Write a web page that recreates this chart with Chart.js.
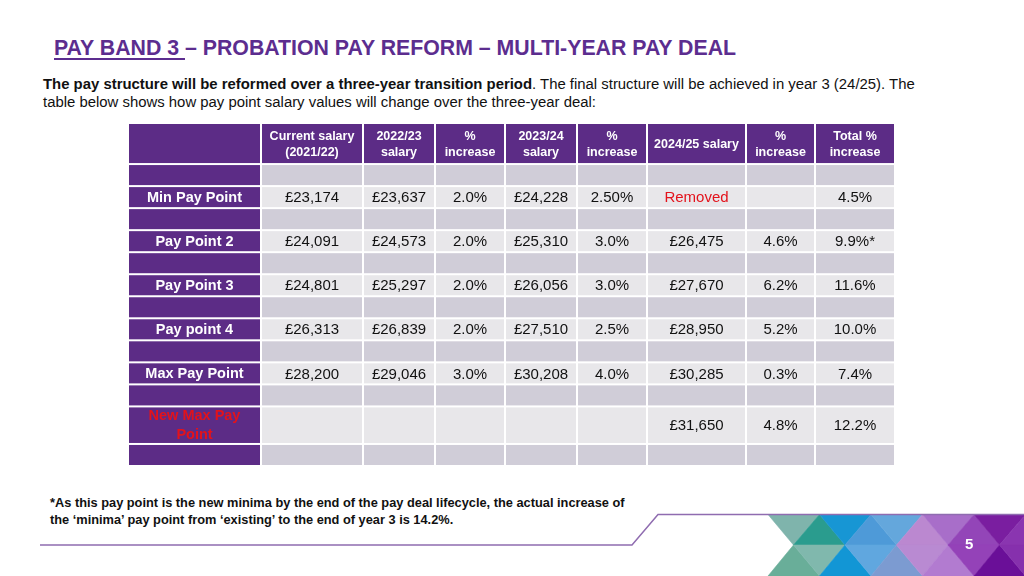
<!DOCTYPE html>
<html lang="en">
<head>
    <meta charset="UTF-8">
    <title>Pay Band 3 - Probation Pay Reform</title>
    <script src="https://cdn.jsdelivr.net/npm/chart.js"></script>
    <style>
        body {
            margin: 0;
            width: 1024px;
            height: 576px;
            overflow: hidden;
            background: #ffffff;
            font-family: 'Liberation Sans', Arial, sans-serif;
            position: relative;
        }

        .title {
            position: absolute;
            left: 54px;
            top: 36px;
            font-size: 21.3px;
            line-height: 24px;
            font-weight: bold;
            color: #5c2d8f;
            white-space: nowrap;
        }

        .title u {
            text-decoration-thickness: 1.5px;
            text-underline-offset: 3px;
        }

        .intro {
            position: absolute;
            left: 43px;
            top: 75px;
            font-size: 14.9px;
            line-height: 18px;
            color: #111;
            white-space: nowrap;
        }

        .note {
            position: absolute;
            left: 50px;
            top: 494px;
            font-size: 12.8px;
            line-height: 17px;
            font-weight: bold;
            color: #111;
            white-space: nowrap;
        }

        #tableWrap {
            position: absolute;
            left: 129px;
            top: 124px;
            width: 767px;
            height: 343px;
        }

        svg.deco {
            position: absolute;
            left: 0;
            top: 0;
        }

        .page {
            position: absolute;
            left: 965px;
            top: 535px;
            font-size: 15px;
            font-weight: bold;
            color: #fff;
        }
    </style>
</head>
<body>

    <div class="title"><u>PAY BAND 3 </u>– PROBATION PAY REFORM – MULTI-YEAR PAY DEAL</div>

    <div class="intro"><b>The pay structure will be reformed over a three-year transition period</b>. The final structure will be achieved in year 3 (24/25). The<br>table below shows how pay point salary values will change over the three-year deal:</div>

    <div id="tableWrap"><canvas id="payTable"></canvas></div>

    <div class="note">*As this pay point is the new minima by the end of the pay deal lifecycle, the actual increase of<br>the ‘minima’ pay point from ‘existing’ to the end of year 3 is 14.2%.</div>

    <!-- footer decoration -->
    <svg class="deco" width="1024" height="576" id="deco"></svg>
    <div class="page">5</div>

    <script>
        // table data
        const rowLabels = ['Min Pay Point', 'Pay Point 2', 'Pay Point 3', 'Pay point 4', 'Max Pay Point', 'New Max Pay Point'];
        const columnHeaders = [
            ['Current salary', '(2021/22)'],
            ['2022/23', 'salary'],
            ['%', 'increase'],
            ['2023/24', 'salary'],
            ['%', 'increase'],
            ['2024/25 salary'],
            ['%', 'increase'],
            ['Total %', 'increase']
        ];
        const currentSalary = ['£23,174', '£24,091', '£24,801', '£26,313', '£28,200', ''];
        const salary2223 = ['£23,637', '£24,573', '£25,297', '£26,839', '£29,046', ''];
        const increase2223 = ['2.0%', '2.0%', '2.0%', '2.0%', '3.0%', ''];
        const salary2324 = ['£24,228', '£25,310', '£26,056', '£27,510', '£30,208', ''];
        const increase2324 = ['2.50%', '3.0%', '3.0%', '2.5%', '4.0%', ''];
        const salary2425 = ['Removed', '£26,475', '£27,670', '£28,950', '£30,285', '£31,650'];
        const increase2425 = ['', '4.6%', '6.2%', '5.2%', '0.3%', '4.8%'];
        const totalIncrease = ['4.5%', '9.9%*', '11.6%', '10.0%', '7.4%', '12.2%'];

        const valueColumns = [currentSalary, salary2223, increase2223, salary2324, increase2324, salary2425, increase2425, totalIncrease];

        // layout (scale units)
        const colWidths = [133, 102, 72, 70, 72, 70, 99, 69, 80];
        const headerHeight = 41;
        const spacerHeight = 22;
        const rowHeight = 22;
        const tallRowHeight = 37.5;
        const gap = 2;

        const purple = '#5c2c86';
        const spacerGrey = '#d0cdd8';
        const cellGrey = '#e8e7ea';
        const red = '#e3121b';
        const font = "'Liberation Sans', Arial, sans-serif";

        // build the row list
        const rows = [{ kind: 'header', h: headerHeight }];
        rowLabels.forEach((label, i) => {
            rows.push({ kind: 'spacer', h: spacerHeight });
            rows.push({ kind: 'data', i: i, h: label.startsWith('New') ? tallRowHeight : rowHeight });
        });
        rows.push({ kind: 'spacer', h: spacerHeight });

        const colEdges = [0];
        colWidths.forEach(w => colEdges.push(colEdges[colEdges.length - 1] + w));
        const rowEdges = [0];
        rows.forEach(r => rowEdges.push(rowEdges[rowEdges.length - 1] + r.h));

        const tablePlugin = {
            id: 'tablePlugin',
            afterDraw(chart) {
                const ctx = chart.ctx;
                const xs = chart.scales.x;
                const ys = chart.scales.y;
                ctx.save();
                ctx.textAlign = 'center';
                ctx.textBaseline = 'middle';
                rows.forEach((row, r) => {
                    const y0 = ys.getPixelForValue(rowEdges[r]);
                    const y1 = ys.getPixelForValue(rowEdges[r + 1]) - gap;
                    const cy = (y0 + y1) / 2;
                    for (let c = 0; c < colWidths.length; c++) {
                        const x0 = xs.getPixelForValue(colEdges[c]);
                        const x1 = xs.getPixelForValue(colEdges[c + 1]) - gap;
                        const cx = (x0 + x1) / 2;
                        let fill = cellGrey;
                        if (row.kind === 'header' || c === 0) fill = purple;
                        else if (row.kind === 'spacer') fill = spacerGrey;
                        ctx.fillStyle = fill;
                        ctx.fillRect(x0, y0, x1 - x0, y1 - y0);

                        if (row.kind === 'header' && c > 0) {
                            const lines = columnHeaders[c - 1];
                            ctx.fillStyle = '#ffffff';
                            ctx.font = 'bold 12.5px ' + font;
                            lines.forEach((t, k) => {
                                const off = lines.length === 1 ? 0 : (k === 0 ? -8 : 8);
                                ctx.fillText(t, cx, cy + off + 1.5);
                            });
                        } else if (row.kind === 'data') {
                            if (c === 0) {
                                const label = rowLabels[row.i];
                                ctx.font = 'bold 14.5px ' + font;
                                if (label.startsWith('New')) {
                                    ctx.fillStyle = red;
                                    ctx.fillText('New Max Pay', cx, cy - 9.5);
                                    ctx.fillText('Point', cx, cy + 9.5);
                                } else {
                                    ctx.fillStyle = '#ffffff';
                                    ctx.fillText(label, cx, cy + 1);
                                }
                            } else {
                                const v = valueColumns[c - 1][row.i];
                                ctx.font = '15px ' + font;
                                ctx.fillStyle = v === 'Removed' ? red : '#111111';
                                ctx.fillText(v, cx, cy + 1);
                            }
                        }
                    }
                });
                ctx.restore();
            }
        };

        new Chart(document.getElementById('payTable').getContext('2d'), {
            type: 'scatter',
            data: { datasets: [] },
            options: {
                responsive: true,
                maintainAspectRatio: false,
                animation: false,
                layout: { padding: 0 },
                plugins: { legend: { display: false }, tooltip: { enabled: false } },
                scales: {
                    x: { type: 'linear', min: 0, max: colEdges[colEdges.length - 1], display: false },
                    y: { type: 'linear', min: 0, max: rowEdges[rowEdges.length - 1], reverse: true, display: false }
                }
            },
            plugins: [tablePlugin]
        });

        // footer triangles
        const svg = document.getElementById('deco');
        const NS = 'http://www.w3.org/2000/svg';
        const yT = 514.5, yM = 545, yB = 576;
        const T = [768, 819.5, 871, 922.5, 974, 1025.5];
        const M = [793.5, 845, 896.5, 948, 999.5, 1051];
        const downTop = ['#7fb4ac', '#1796d4', '#64a7dc', '#a86ec9', '#7a1ea0'];
        const upTop = ['#2a9c8e', '#4e9ad8', '#bb88d0', '#9345b8', '#8a35b0'];
        const upBot = ['#69ae99', '#1296d5', '#7c9bd1', '#b27bd0', '#6a0f98'];
        const downBot = ['#80b8ad', '#60a7df', '#b98ad2', '#9442b8', '#8630ad'];
        function tri(pts, color) {
            const p = document.createElementNS(NS, 'polygon');
            p.setAttribute('points', pts.map(q => q.join(',')).join(' '));
            p.setAttribute('fill', color);
            p.setAttribute('stroke', color);
            p.setAttribute('stroke-width', '0.6');
            svg.appendChild(p);
        }
        for (let i = 0; i < 5; i++) {
            tri([[T[i], yT], [T[i + 1], yT], [M[i], yM]], downTop[i]);
            tri([[M[i], yM], [M[i + 1], yM], [T[i + 1], yT]], upTop[i]);
            tri([[T[i], yB], [T[i + 1], yB], [M[i], yM]], upBot[i]);
            tri([[M[i], yM], [M[i + 1], yM], [T[i + 1], yB]], downBot[i]);
        }
        const line = document.createElementNS(NS, 'polyline');
        line.setAttribute('points', '40,545 632,545 658,514.5 1024,514.5');
        line.setAttribute('fill', 'none');
        line.setAttribute('stroke', '#8f6cb0');
        line.setAttribute('stroke-width', '1.5');
        svg.appendChild(line);
    </script>
</body>
</html>
